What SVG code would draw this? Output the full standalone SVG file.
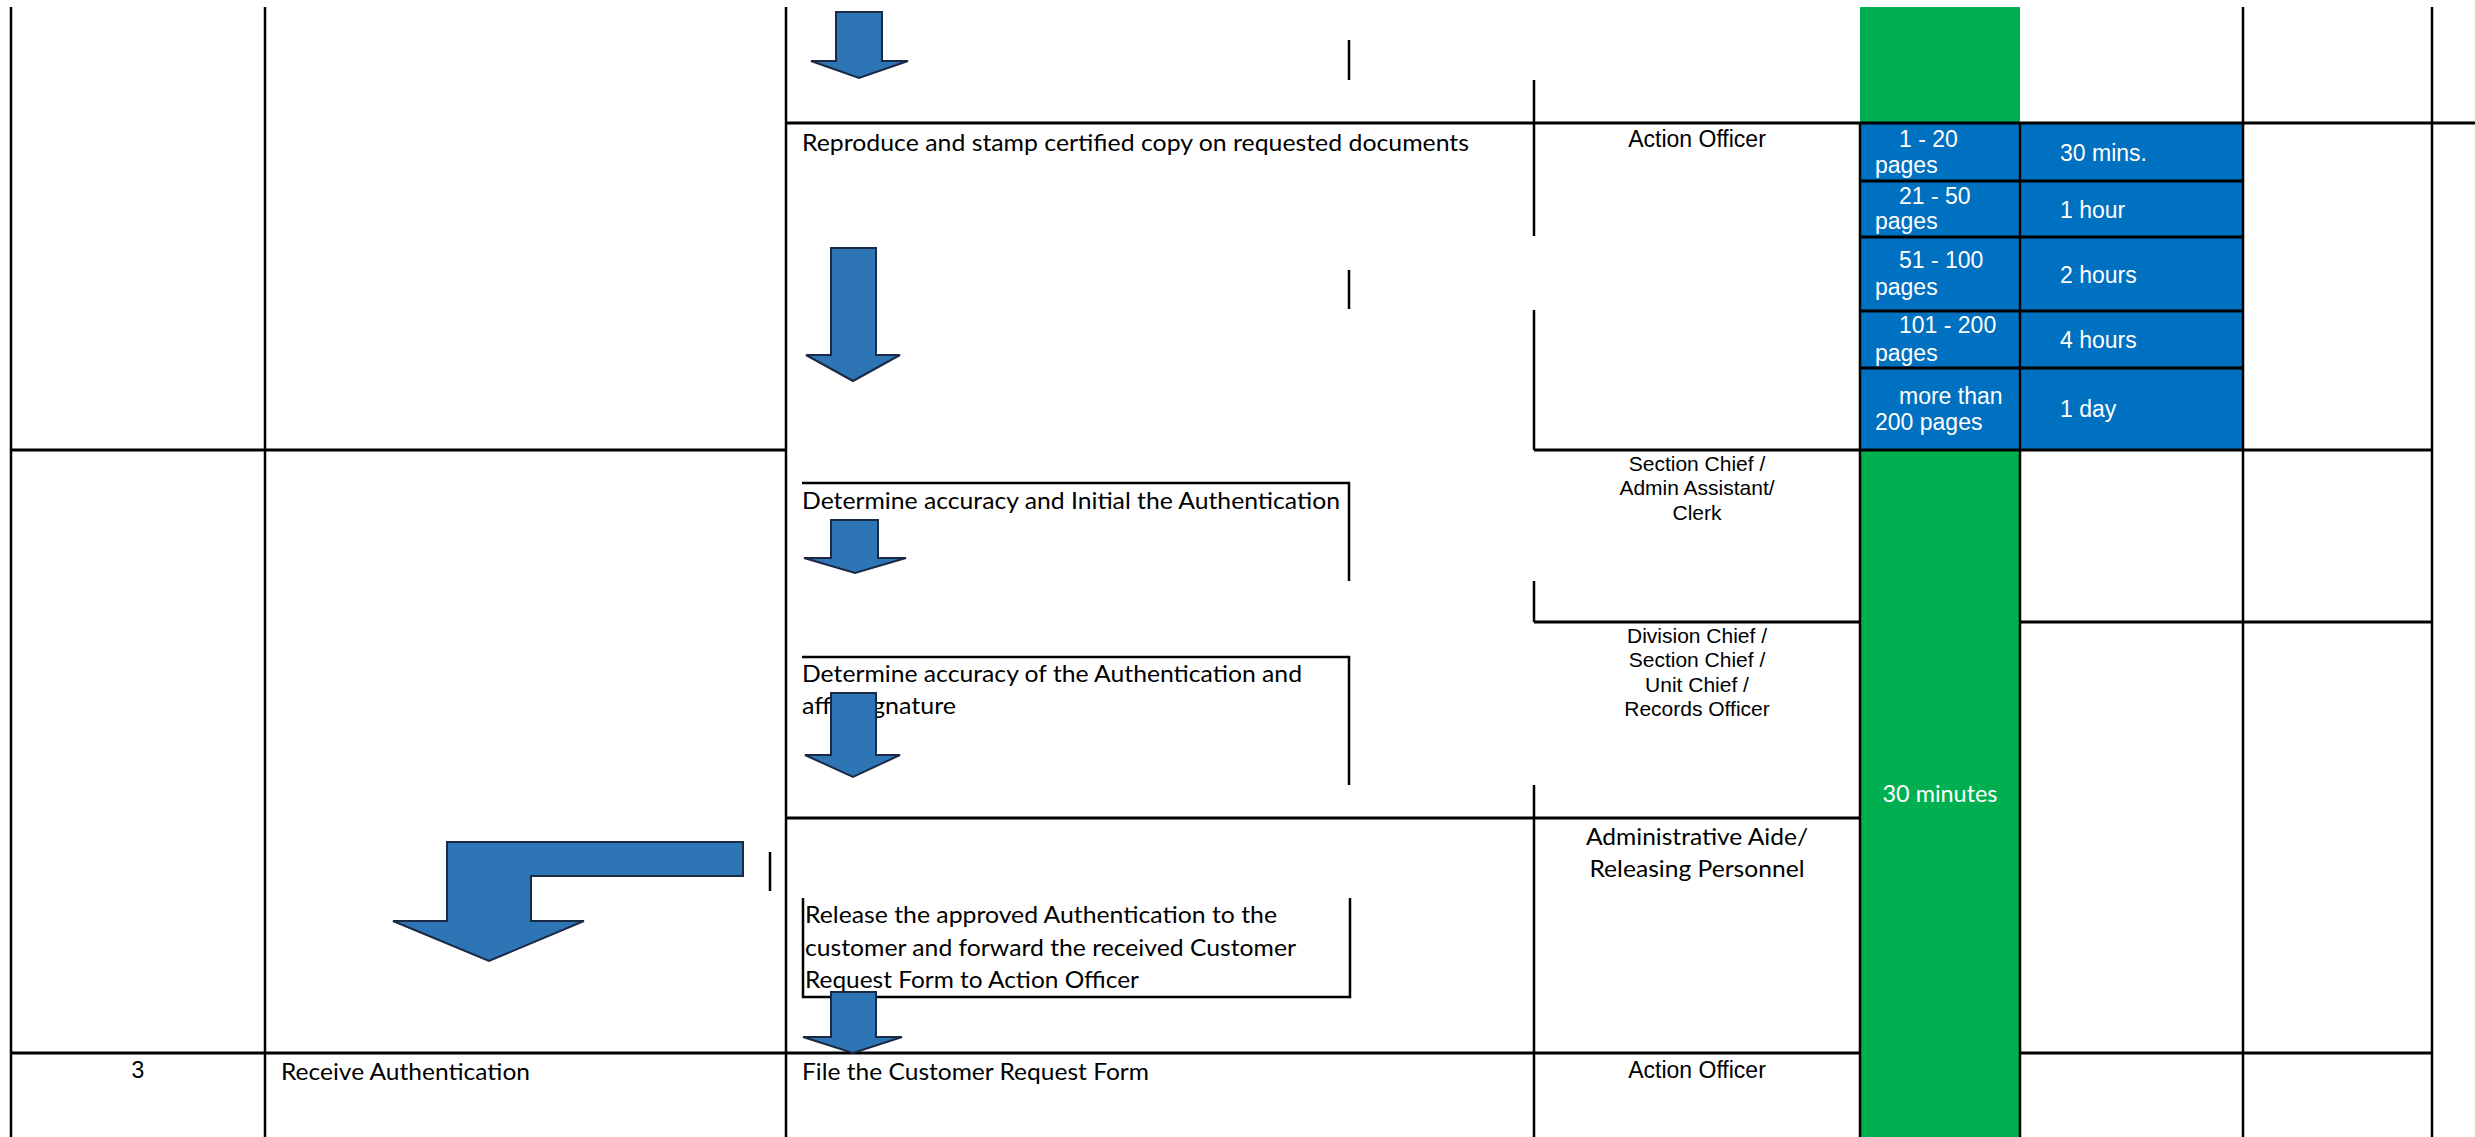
<svg xmlns="http://www.w3.org/2000/svg" width="2475" height="1137" viewBox="0 0 2475 1137">
<defs>
<style>
.ln{stroke:#000;stroke-width:2.5;fill:none}
.lh{stroke:#000;stroke-width:3;fill:none}
.ar{fill:#2E75B6;stroke:#1b2a44;stroke-width:2;stroke-linejoin:miter}
.cal{font-family:Lato,"Open Sans","Liberation Sans",sans-serif;font-size:24px;fill:#000}
.ari{font-family:"Liberation Sans",Arial,sans-serif;font-size:23px;fill:#000}
.ars{font-family:"Liberation Sans",Arial,sans-serif;font-size:21px;fill:#000;text-anchor:middle}
.wt{font-family:"Liberation Sans",Arial,sans-serif;font-size:23px;fill:#fff}
.mid{text-anchor:middle}
</style>
</defs>
<rect x="0" y="0" width="2475" height="1137" fill="#fff"/>

<!-- coloured cells -->
<g id="fills">
<rect x="1860" y="7" width="160" height="116" fill="#00B050"/>
<rect x="1860" y="123" width="383" height="327" fill="#0070C0"/>
<rect x="1860" y="450" width="160" height="687" fill="#00B050"/>
</g>

<!-- table grid -->
<g id="grid">
<line class="ln" x1="11" y1="7" x2="11" y2="1137"/>
<line class="ln" x1="265" y1="7" x2="265" y2="1137"/>
<line class="ln" x1="786" y1="7" x2="786" y2="1137"/>
<line class="ln" x1="2243" y1="7" x2="2243" y2="1137"/>
<line class="ln" x1="2432" y1="7" x2="2432" y2="1137"/>
<line class="ln" x1="1860" y1="123" x2="1860" y2="1137"/>
<line class="ln" x1="2020" y1="123" x2="2020" y2="1137"/>
<line class="ln" x1="1534" y1="80" x2="1534" y2="236"/>
<line class="ln" x1="1534" y1="310" x2="1534" y2="450"/>
<line class="ln" x1="1534" y1="581" x2="1534" y2="622"/>
<line class="ln" x1="1534" y1="785" x2="1534" y2="1137"/>
<line class="ln" x1="1349" y1="40" x2="1349" y2="80"/>
<line class="ln" x1="1349" y1="270" x2="1349" y2="309"/>
<line class="ln" x1="770" y1="852" x2="770" y2="891"/>
<line class="lh" x1="786" y1="123" x2="2475" y2="123"/>
<line class="lh" x1="1860" y1="181" x2="2243" y2="181"/>
<line class="lh" x1="1860" y1="237" x2="2243" y2="237"/>
<line class="lh" x1="1860" y1="311" x2="2243" y2="311"/>
<line class="lh" x1="1860" y1="368" x2="2243" y2="368"/>
<line class="lh" x1="11" y1="450" x2="786" y2="450"/>
<line class="lh" x1="1534" y1="450" x2="2432" y2="450"/>
<line class="lh" x1="1534" y1="622" x2="1860" y2="622"/>
<line class="lh" x1="2020" y1="622" x2="2432" y2="622"/>
<line class="lh" x1="786" y1="818" x2="1860" y2="818"/>
<line class="lh" x1="11" y1="1053" x2="1860" y2="1053"/>
<line class="lh" x1="2020" y1="1053" x2="2432" y2="1053"/>
</g>

<!-- step boxes -->
<g id="step-reproduce">
<text class="cal" x="802" y="151" textLength="667" lengthAdjust="spacingAndGlyphs">Reproduce and stamp certified copy on requested documents</text>
</g>
<g id="step-initial">
<path class="ln" d="M802,483 H1349 V581"/>
<text class="cal" x="802" y="509" textLength="538" lengthAdjust="spacingAndGlyphs">Determine accuracy and Initial the Authentication</text>
</g>
<g id="step-sign">
<path class="ln" d="M802,657 H1349 V785"/>
<text class="cal" x="802" y="682" textLength="500" lengthAdjust="spacingAndGlyphs">Determine accuracy of the Authentication and</text>
<text class="cal" x="802" y="714" textLength="154" lengthAdjust="spacingAndGlyphs">affix signature</text>
</g>
<g id="step-release">
<path class="ln" d="M803,898 V997 H1350 V898"/>
<text class="cal" x="805" y="923" textLength="472" lengthAdjust="spacingAndGlyphs">Release the approved Authentication to the</text>
<text class="cal" x="805" y="956" textLength="491" lengthAdjust="spacingAndGlyphs">customer and forward the received Customer</text>
<text class="cal" x="805" y="988" textLength="334" lengthAdjust="spacingAndGlyphs">Request Form to Action Officer</text>
</g>
<g id="step-file">
<text class="cal" x="802" y="1080" textLength="347" lengthAdjust="spacingAndGlyphs">File the Customer Request Form</text>
</g>
<g id="client-step-3">
<text class="ari mid" x="138" y="1078">3</text>
<text class="cal" x="281" y="1080" textLength="249" lengthAdjust="spacingAndGlyphs">Receive Authentication</text>
</g>

<!-- persons responsible -->
<g id="person-action-officer-1">
<text class="ari mid" x="1697" y="147">Action Officer</text>
</g>
<g id="person-section-chief">
<text class="ars" x="1697" y="471">Section Chief /</text>
<text class="ars" x="1697" y="495">Admin Assistant/</text>
<text class="ars" x="1697" y="520">Clerk</text>
</g>
<g id="person-division-chief">
<text class="ars" x="1697" y="643">Division Chief /</text>
<text class="ars" x="1697" y="667">Section Chief /</text>
<text class="ars" x="1697" y="692">Unit Chief /</text>
<text class="ars" x="1697" y="716">Records Officer</text>
</g>
<g id="person-releasing">
<text class="cal mid" x="1697" y="845" textLength="222" lengthAdjust="spacingAndGlyphs">Administrative Aide/</text>
<text class="cal mid" x="1697" y="877" textLength="215" lengthAdjust="spacingAndGlyphs">Releasing Personnel</text>
</g>
<g id="person-action-officer-2">
<text class="ari mid" x="1697" y="1078">Action Officer</text>
</g>

<!-- processing time -->
<g id="time-table">
<text class="wt" x="1899" y="147">1 - 20</text>
<text class="wt" x="1875" y="173">pages</text>
<text class="wt" x="2060" y="161">30 mins.</text>
<text class="wt" x="1899" y="204">21 - 50</text>
<text class="wt" x="1875" y="229">pages</text>
<text class="wt" x="2060" y="218">1 hour</text>
<text class="wt" x="1899" y="268">51 - 100</text>
<text class="wt" x="1875" y="295">pages</text>
<text class="wt" x="2060" y="283">2 hours</text>
<text class="wt" x="1899" y="333">101 - 200</text>
<text class="wt" x="1875" y="361">pages</text>
<text class="wt" x="2060" y="348">4 hours</text>
<text class="wt" x="1899" y="404">more than</text>
<text class="wt" x="1875" y="430">200 pages</text>
<text class="wt" x="2060" y="417">1 day</text>
</g>
<g id="time-30-minutes">
<text class="cal mid" x="1940" y="802" style="fill:#fff" textLength="115" lengthAdjust="spacingAndGlyphs">30 minutes</text>
</g>

<!-- connectors: block arrows -->
<g id="connectors">
<path class="ar" d="M836,12 H882 V61 H908 L859,78 L811,61 H836 Z"/>
<path class="ar" d="M831,248 H876 V355 H900 L853,381 L806,355 H831 Z"/>
<path class="ar" d="M831,520 H878 V558 H906 L855,573 L804,558 H831 Z"/>
<path class="ar" d="M831,693 H876 V755 H900 L853,777 L805,755 H831 Z"/>
<path class="ar" d="M831,992 H876 V1037 H902 L853,1053 L803,1037 H831 Z"/>
<path class="ar" d="M743,842 H447 V921 H393 L489,961 L584,921 H531 V876 H743 Z"/>
</g>
</svg>
